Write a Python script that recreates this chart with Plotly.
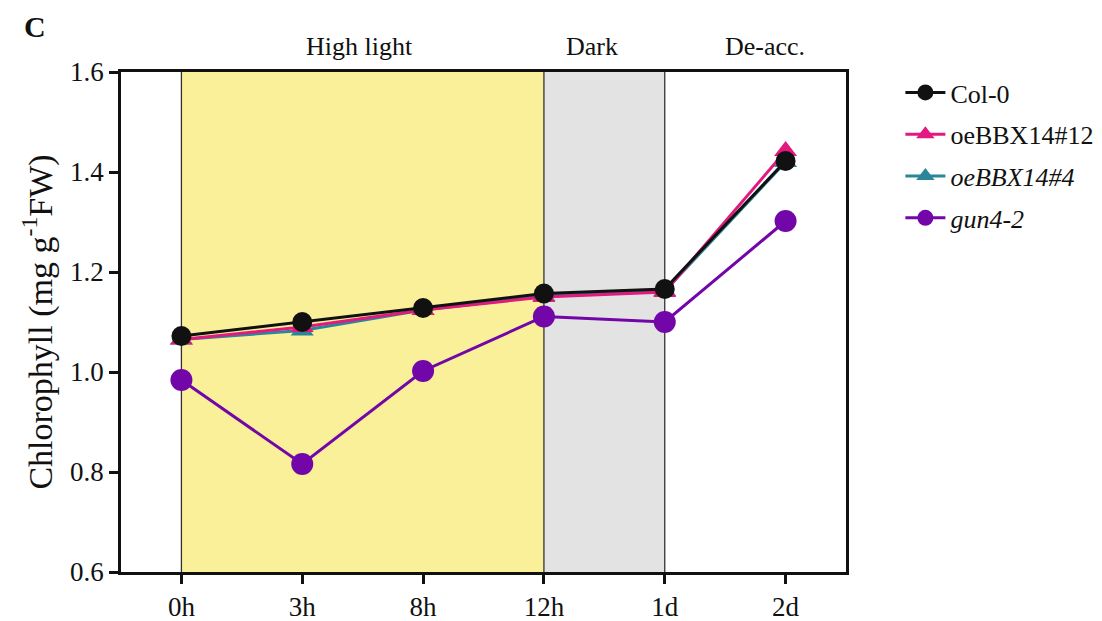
import plotly.graph_objects as go

time_labels = ["0h", "3h", "8h", "12h", "1d", "2d"]
col0 = [1.072, 1.100, 1.128, 1.157, 1.166, 1.422]
oe12 = [1.065, 1.090, 1.124, 1.150, 1.160, 1.442]
oe4 = [1.065, 1.083, 1.124, 1.152, 1.162, 1.420]
gun4 = [0.984, 0.816, 1.002, 1.111, 1.100, 1.302]

series_names = ["Col-0", "oeBBX14#12", "<i>oeBBX14#4</i>", "<i>gun4-2</i>"]
phase_labels = ["High light", "Dark", "De-acc."]

FONT = "Liberation Serif"
xs = list(range(len(time_labels)))

fig = go.Figure()

# Background phases
fig.add_vrect(x0=0, x1=3, fillcolor="#FAF09A", line_width=0, layer="below")
fig.add_vrect(x0=3, x1=4, fillcolor="#E3E3E3", line_width=0, layer="below")
for xv in [0, 3, 4]:
    fig.add_shape(type="line", x0=xv, x1=xv, y0=0, y1=1, xref="x", yref="paper",
                  line=dict(color="#333333", width=1.3), layer="below")

styles = [
    (oe4, series_names[2], "#2A8797", "triangle-up", 20),
    (oe12, series_names[1], "#E2197E", "triangle-up", 20),
    (gun4, series_names[3], "#7206A8", "circle", 22),
    (col0, series_names[0], "#111111", "circle", 20),
]
order = {series_names[0]: 1, series_names[1]: 2, series_names[2]: 3, series_names[3]: 4}
for ys, name, color, sym, sz in styles:
    fig.add_trace(go.Scatter(
        x=xs, y=ys, mode="lines+markers", name=name,
        line=dict(color=color, width=3),
        marker=dict(symbol=sym, size=sz, color=color),
        legendrank=order[name], legendgroup="g%d" % order[name],
    ))

# Phase labels
for label, xc in zip(phase_labels, [1.47, 3.4, 4.83]):
    fig.add_annotation(x=xc, y=1.05, xref="x", yref="paper", text=label,
                       showarrow=False, yanchor="middle",
                       font=dict(family=FONT, size=26, color="#111111"))

fig.add_annotation(x=-0.119, y=1.09, xref="paper", yref="paper", text="<b>C</b>",
                   showarrow=False, xanchor="center", yanchor="middle",
                   font=dict(family=FONT, size=30, color="#111111"))

fig.update_layout(
    width=1102, height=621,
    margin=dict(l=121, r=256, t=72, b=49, autoexpand=False),
    paper_bgcolor="white", plot_bgcolor="white",
    font=dict(family=FONT, size=26, color="#111111"),
    showlegend=True,
    legend=dict(x=1.075, y=1.006, xanchor="left", yanchor="top",
                font=dict(family=FONT, size=26), tracegroupgap=5,
                itemwidth=40, traceorder="grouped"),
)
fig.update_xaxes(
    range=[-0.5, 5.5], tickmode="array", tickvals=xs, ticktext=time_labels,
    showgrid=False, zeroline=False, showline=True, linecolor="#111111", linewidth=2.5,
    mirror=True, ticks="outside", ticklen=9, tickwidth=2.5, tickcolor="#111111",
    tickfont=dict(family=FONT, size=27), automargin=False,
)
fig.update_yaxes(
    range=[0.6, 1.6], tickmode="array", tickvals=[0.6, 0.8, 1.0, 1.2, 1.4, 1.6],
    ticktext=["0.6", "0.8", "1.0", "1.2", "1.4", "1.6"],
    showgrid=False, zeroline=False, showline=True, linecolor="#111111", linewidth=2.5,
    mirror=True, ticks="outside", ticklen=9, tickwidth=2.5, tickcolor="#111111",
    tickfont=dict(family=FONT, size=27), automargin=False,
    title=dict(text="Chlorophyll (mg g<sup>-1</sup>FW)", font=dict(family=FONT, size=34), standoff=8),
)

fig.write_html("out.html")
